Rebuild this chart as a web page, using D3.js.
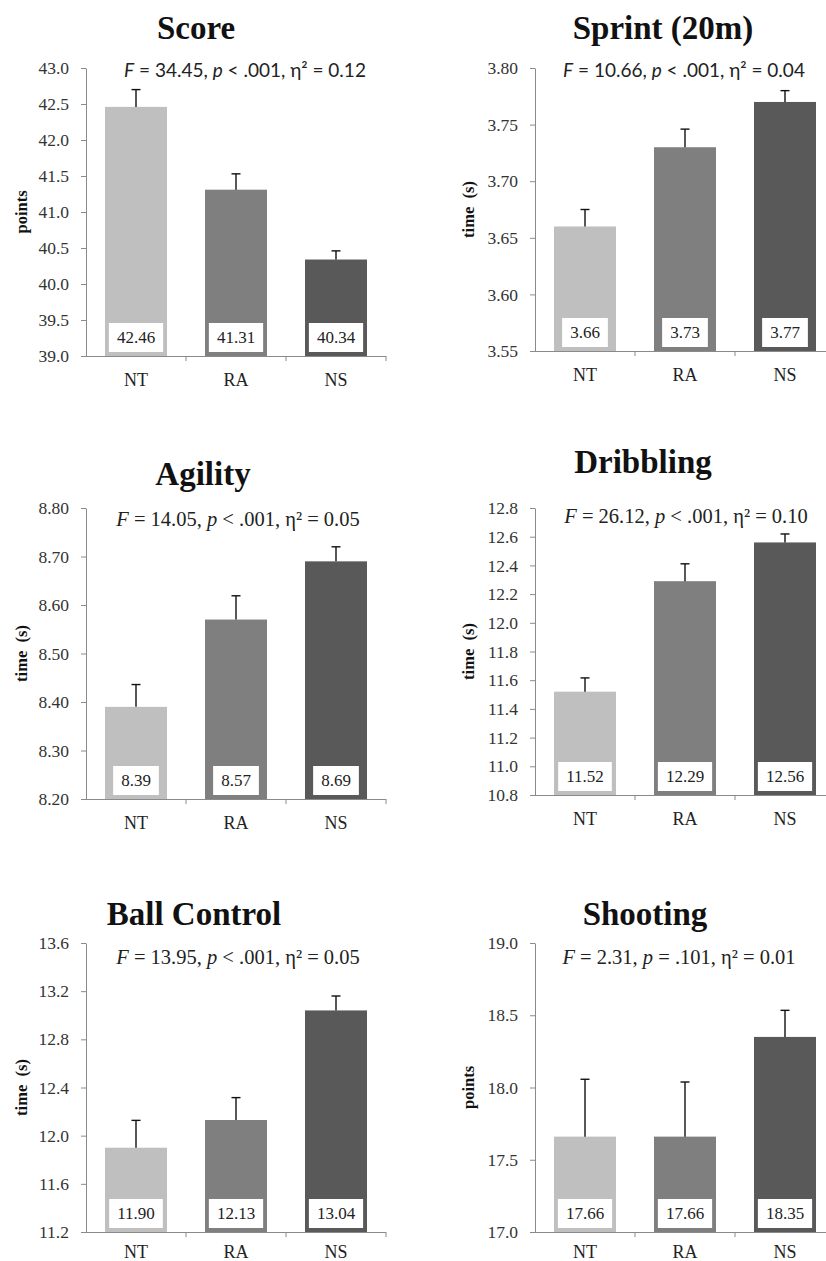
<!DOCTYPE html>
<html>
<head>
<meta charset="utf-8">
<script src="https://cdn.jsdelivr.net/npm/d3@7/dist/d3.min.js"></script>
<style>
  html, body { margin: 0; padding: 0; background: #fff; }
  svg { display: block; }
  svg text { font-family: "Liberation Serif", "Times New Roman", serif; }
</style>
</head>
<body>
<svg id="chart" width="826" height="1261"></svg>
<script>
// ---- data ----
const groups = ["NT", "RA", "NS"];
const groupColors = ["#bfbfbf", "#7f7f7f", "#595959"];

const panelTitles = ["Score", "Sprint (20m)", "Agility", "Dribbling", "Ball Control", "Shooting"];
const yAxisTitles = ["points", "time  (s)", "time  (s)", "time  (s)", "time  (s)", "points"];

const scoreMeans     = [42.46, 41.31, 40.34];
const scoreSE        = [0.24, 0.22, 0.12];
const sprintMeans    = [3.66, 3.73, 3.77];
const sprintSE       = [0.015, 0.016, 0.010];
const agilityMeans   = [8.39, 8.57, 8.69];
const agilitySE      = [0.046, 0.049, 0.030];
const dribblingMeans = [11.52, 12.29, 12.56];
const dribblingSE    = [0.096, 0.121, 0.059];
const ballMeans      = [11.90, 12.13, 13.04];
const ballSE         = [0.227, 0.186, 0.12];
const shootingMeans  = [17.66, 17.66, 18.35];
const shootingSE     = [0.397, 0.378, 0.184];

const fValues = ["34.45", "10.66", "14.05", "26.12", "13.95", "2.31"];
const pTexts  = ["< .001", "< .001", "< .001", "< .001", "< .001", "= .101"];
const etaSq   = ["0.12", "0.04", "0.05", "0.10", "0.05", "0.01"];

const scoreTicks     = [39.0, 39.5, 40.0, 40.5, 41.0, 41.5, 42.0, 42.5, 43.0];
const sprintTicks    = [3.55, 3.60, 3.65, 3.70, 3.75, 3.80];
const agilityTicks   = [8.20, 8.30, 8.40, 8.50, 8.60, 8.70, 8.80];
const dribblingTicks = [10.8, 11.0, 11.2, 11.4, 11.6, 11.8, 12.0, 12.2, 12.4, 12.6, 12.8];
const ballTicks      = [11.2, 11.6, 12.0, 12.4, 12.8, 13.2, 13.6];
const shootingTicks  = [17.0, 17.5, 18.0, 18.5, 19.0];
const tickFormats    = [".1f", ".2f", ".2f", ".1f", ".1f", ".1f"];

const meansList = [scoreMeans, sprintMeans, agilityMeans, dribblingMeans, ballMeans, shootingMeans];
const seList    = [scoreSE, sprintSE, agilitySE, dribblingSE, ballSE, shootingSE];
const ticksList = [scoreTicks, sprintTicks, agilityTicks, dribblingTicks, ballTicks, shootingTicks];

// ---- layout of the six panels (plot frame, title and caption placement) ----
const layout = [
  { x0: 86,  top: 68,  bottom: 356,  titleX: 196, titleY: 39,  statX: 245, statY: 77,  sans: true,  catPad: 17 },
  { x0: 535, top: 68,  bottom: 351,  titleX: 663, titleY: 39,  statX: 684, statY: 77,  sans: true,  catPad: 17 },
  { x0: 86,  top: 508, bottom: 799,  titleX: 203, titleY: 485, statX: 238, statY: 526, sans: false, catPad: 17 },
  { x0: 535, top: 508, bottom: 795,  titleX: 643, titleY: 473, statX: 686, statY: 523, sans: false, catPad: 17 },
  { x0: 86,  top: 943, bottom: 1232, titleX: 194, titleY: 925, statX: 238, statY: 964, sans: false, catPad: 13 },
  { x0: 535, top: 943, bottom: 1232, titleX: 645, titleY: 925, statX: 679, statY: 964, sans: false, catPad: 13 }
];

const SERIF = "'Liberation Serif', 'Times New Roman', serif";
const SANS = "Lato, 'Liberation Sans', sans-serif";
const AXIS_COLOR = "#8a8a8a";
const TEXT_COLOR = "#222";

const svg = d3.select("#chart");
svg.append("rect").attr("width", 826).attr("height", 1261).attr("fill", "#fff");

layout.forEach((L, i) => {
  const means = meansList[i];
  const se = seList[i];
  const ticks = ticksList[i];
  const g = svg.append("g");

  const x = d3.scaleBand()
    .domain(groups)
    .range([L.x0, L.x0 + 300])
    .paddingInner(0.38)
    .paddingOuter(0.19);

  const y = d3.scaleLinear()
    .domain([ticks[0], ticks[ticks.length - 1]])
    .range([L.bottom, L.top]);

  const rows = groups.map((grp, k) => ({ grp, mean: means[k], se: se[k], color: groupColors[k] }));

  // bars
  g.selectAll("rect.bar").data(rows).enter().append("rect")
    .attr("class", "bar")
    .attr("x", d => x(d.grp))
    .attr("width", x.bandwidth())
    .attr("y", d => y(d.mean))
    .attr("height", d => y(ticks[0]) - y(d.mean))
    .attr("fill", d => d.color);

  // error bars (upper half)
  const err = g.selectAll("g.err").data(rows).enter().append("g").attr("class", "err");
  err.append("line")
    .attr("x1", d => x(d.grp) + x.bandwidth() / 2)
    .attr("x2", d => x(d.grp) + x.bandwidth() / 2)
    .attr("y1", d => y(d.mean))
    .attr("y2", d => y(d.mean + d.se))
    .attr("stroke", "#111").attr("stroke-width", 1.4);
  err.append("line")
    .attr("x1", d => x(d.grp) + x.bandwidth() / 2 - 4.5)
    .attr("x2", d => x(d.grp) + x.bandwidth() / 2 + 4.5)
    .attr("y1", d => y(d.mean + d.se))
    .attr("y2", d => y(d.mean + d.se))
    .attr("stroke", "#111").attr("stroke-width", 1.4);

  // y axis
  const yAxis = d3.axisLeft(y)
    .tickValues(ticks)
    .tickFormat(d3.format(tickFormats[i]))
    .tickSize(5)
    .tickSizeOuter(0)
    .tickPadding(12);
  const ya = g.append("g").attr("transform", `translate(${L.x0},0)`).call(yAxis);
  ya.attr("font-family", null).attr("font-size", null);
  ya.select(".domain").attr("stroke", AXIS_COLOR);
  ya.selectAll(".tick line").attr("stroke", AXIS_COLOR);
  ya.selectAll(".tick text")
    .style("font-family", SERIF).style("font-size", "17.5px").attr("fill", "#333");

  // x axis: baseline, category labels, band boundary ticks
  const xAxis = d3.axisBottom(x).tickSize(0).tickSizeOuter(0).tickPadding(L.catPad);
  const xa = g.append("g").attr("transform", `translate(0,${L.bottom})`).call(xAxis);
  xa.attr("font-family", null).attr("font-size", null);
  xa.select(".domain").attr("stroke", AXIS_COLOR).attr("d", `M${L.x0},0.5H${L.x0 + 300}`);
  xa.selectAll(".tick text")
    .style("font-family", SERIF).style("font-size", "18px").attr("fill", TEXT_COLOR);
  xa.selectAll("line.bound").data(groups).enter().append("line")
    .attr("class", "bound")
    .attr("x1", d => x(d) + x.bandwidth() / 2 + x.step() / 2)
    .attr("x2", d => x(d) + x.bandwidth() / 2 + x.step() / 2)
    .attr("y1", 0).attr("y2", 5)
    .attr("stroke", AXIS_COLOR);

  // value boxes at the foot of each bar
  const vb = g.selectAll("g.vbox").data(rows).enter().append("g").attr("class", "vbox");
  vb.append("rect").attr("fill", "#fff");
  vb.append("text")
    .attr("x", d => x(d.grp) + x.bandwidth() / 2)
    .attr("y", y(ticks[0]) - 13)
    .attr("text-anchor", "middle")
    .style("font-family", SERIF).style("font-size", "17px").attr("fill", TEXT_COLOR)
    .text(d => d.mean.toFixed(2));
  vb.each(function () {
    const t = d3.select(this).select("text");
    const w = t.node().getComputedTextLength() + 16;
    const cx = +t.attr("x");
    d3.select(this).select("rect")
      .attr("x", cx - w / 2).attr("width", w)
      .attr("y", y(ticks[0]) - 33).attr("height", 29);
  });

  // panel title
  g.append("text")
    .attr("x", L.titleX).attr("y", L.titleY)
    .attr("text-anchor", "middle")
    .style("font-family", SERIF).style("font-weight", "bold").style("font-size", "33px")
    .attr("fill", "#111")
    .text(panelTitles[i]);

  // ANOVA caption
  const st = g.append("text")
    .attr("x", L.statX).attr("y", L.statY)
    .attr("text-anchor", "middle")
    .style("font-family", L.sans ? SANS : SERIF)
    .style("font-size", L.sans ? "19px" : "20.5px")
    .attr("fill", TEXT_COLOR);
  st.append("tspan").style("font-style", "italic").text("F");
  st.append("tspan").text(` = ${fValues[i]}, `);
  st.append("tspan").style("font-style", "italic").text("p");
  st.append("tspan").text(` ${pTexts[i]}, η² = ${etaSq[i]}`);

  // y-axis title
  g.append("text")
    .attr("transform", `translate(${L.x0 - (i % 2 === 0 ? 65 : 67)},${(L.top + L.bottom) / 2}) rotate(-90)`)
    .attr("text-anchor", "middle")
    .attr("dominant-baseline", "central")
    .style("font-family", SERIF).style("font-weight", "bold").style("font-size", "16.5px")
    .style("white-space", "pre")
    .attr("fill", "#111")
    .text(yAxisTitles[i]);
});
</script>
</body>
</html>
